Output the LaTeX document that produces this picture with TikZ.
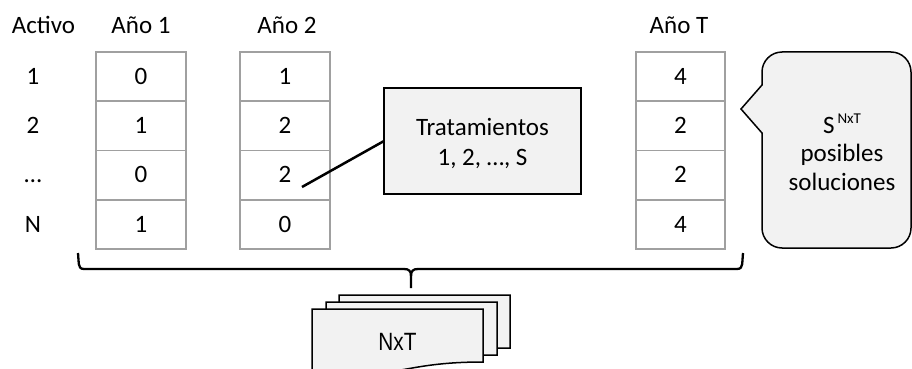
\documentclass[tikz,border=0pt]{standalone}
\usepackage{fontspec}
\usepackage{graphicx}
\setmainfont{Carlito}
\newfontfamily\arialfont{Liberation Sans}
\definecolor{cellgray}{RGB}{160,160,160}
\definecolor{fillgray}{RGB}{242,242,242}
\tikzset{
  every node/.style={font=\fontsize{25}{30}\selectfont, inner sep=0pt, outer sep=0pt},
  lbl/.style={text height=15.5pt, text depth=0pt},
  cell/.style={draw=cellgray, line width=1.5pt, minimum width=90pt, minimum height=49.25pt, text height=15.5pt, text depth=0pt},
  cellT/.style={cell, minimum width=89pt},
  callbox/.style={draw=black, line width=2.7pt, fill=fillgray, minimum width=197pt, minimum height=106pt, align=center},
  pointer/.style={draw=black, line width=2.5pt},
  bracestyle/.style={draw=black, line width=2.3pt, line join=round},
  bubblestyle/.style={draw=black, line width=1.5pt, fill=fillgray, line join=miter},
  docstyle/.style={draw=black, line width=1.5pt, fill=fillgray}
}
\begin{document}
\begin{tikzpicture}[x=1pt,y=-1pt]
\useasboundingbox (0,0) rectangle (912,369);

% headers
\node[lbl] (hact) at (43.5,25.5) {Activo};
\node[lbl] (h1) at (141,25.5) {Año 1};
\node[lbl] (h2) at (287,25.5) {Año 2};
\node[lbl] (hT) at (679,25.5) {Año T};

% row labels
\node[lbl] (r1) at (33,76.6) {1};
\node[lbl] (r2) at (33,125.9) {2};
\node[lbl] (r3) at (33,175.1) {…};
\node[lbl] (r4) at (33,224.4) {N};

% column Año 1
\node[cell] (a1) at (141,76.6) {0};
\node[cell] (a2) at (141,125.9) {1};
\node[cell] (a3) at (141,175.1) {0};
\node[cell] (a4) at (141,224.4) {1};

% column Año 2
\node[cell] (b1) at (285,76.6) {1};
\node[cell] (b2) at (285,125.9) {2};
\node[cell] (b3) at (285,175.1) {2};
\node[cell] (b4) at (285,224.4) {0};

% column Año T
\node[cellT] (t1) at (680.5,76.6) {4};
\node[cellT] (t2) at (680.5,125.9) {2};
\node[cellT] (t3) at (680.5,175.1) {2};
\node[cellT] (t4) at (680.5,224.4) {4};

% Tratamientos callout
\node[callbox] (trat) at (482.5,141) {\rule{0pt}{21.5pt}Tratamientos\\1, 2, …, S};
\coordinate (ptr) at (302,187);
\draw[pointer] (ptr) -- (trat.west);

% speech bubble
\draw[bubblestyle] (762,85) -- (741,109) -- (762,133) -- (762,228)
  .. controls (762,239) and (771,248) .. (782,248) -- (891,248)
  .. controls (902,248) and (911,239) .. (911,228) -- (911,72)
  .. controls (911,61) and (902,52) .. (891,52) -- (782,52)
  .. controls (771,52) and (762,61) .. (762,72) -- cycle;
\node[align=center, font=\fontsize{25}{28.5}\selectfont] (bub) at (842,152)
  {S\hspace{3pt}\raisebox{10pt}{\fontsize{15}{15}\selectfont NxT}\\posibles\\soluciones};

% brace
\draw[bracestyle] (78,253) -- (78.8,264) .. controls (79,267) and (80.5,269) .. (84,269) -- (404,269)
  .. controls (409,269) and (411,271) .. (411,276) -- (411,288);
\draw[bracestyle] (743,253) -- (742.2,264) .. controls (742,267) and (740.5,269) .. (737,269) -- (418,269)
  .. controls (413,269) and (411,271) .. (411,276);

% document stack
\draw[docstyle] (339,295) -- (510,295) -- (510,348) .. controls (424.5,348) and (424.5,368) .. (339,356.6) -- cycle;
\draw[docstyle] (326,302) -- (497,302) -- (497,355) .. controls (411.5,355) and (411.5,375) .. (326,363.6) -- cycle;
\draw[docstyle] (312,309) -- (483,309) -- (483,362) .. controls (397.5,362) and (397.5,382) .. (312,370.6) -- cycle;
\node[anchor=base, font=\arialfont\fontsize{25}{25}\selectfont] (nxt) at (397.5,350) {\scalebox{0.83}[1]{NxT}};
\end{tikzpicture}
\end{document}
